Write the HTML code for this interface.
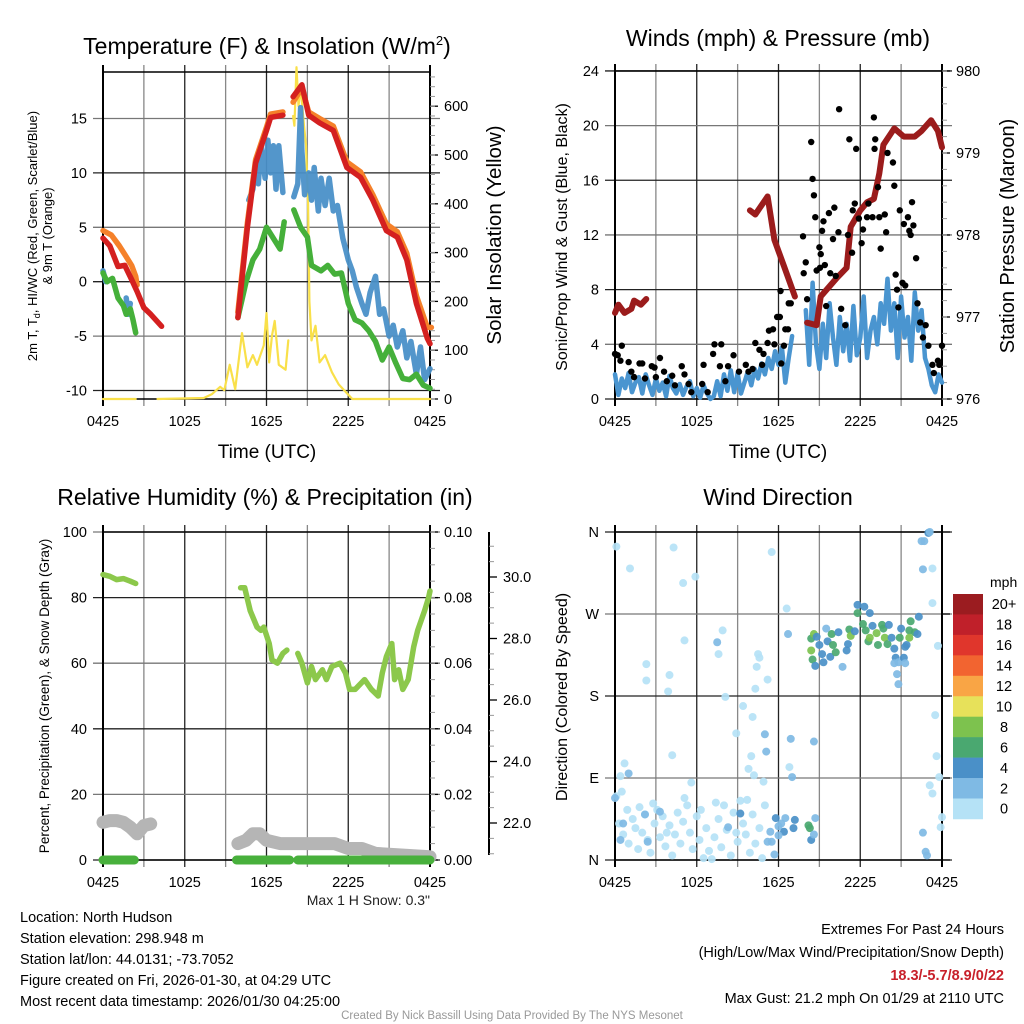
<!DOCTYPE html>
<html><head><meta charset="utf-8"><style>
body{margin:0;background:#fff;}
svg{display:block;font-family:"Liberation Sans",sans-serif;}
</style></head><body>
<svg id="s" width="1024" height="1024" viewBox="0 0 1024 1024" xmlns="http://www.w3.org/2000/svg">
<g id="txt" font-family="Liberation Sans, sans-serif" fill="#000">
<text x="267" y="54" font-size="23" text-anchor="middle">Temperature (F) &amp; Insolation (W/m<tspan dy="-9" font-size="13">2</tspan><tspan dy="9">)</tspan></text>
<text x="778" y="46" font-size="23" text-anchor="middle">Winds (mph) &amp; Pressure (mb)</text>
<text x="265" y="505" font-size="23" text-anchor="middle">Relative Humidity (%) &amp; Precipitation (in)</text>
<text x="778" y="505" font-size="23" text-anchor="middle">Wind Direction</text>
<text x="267" y="458" font-size="19" text-anchor="middle">Time (UTC)</text>
<text x="778" y="458" font-size="19" text-anchor="middle">Time (UTC)</text>
<text transform="translate(37,236) rotate(-90)" font-size="13" text-anchor="middle">2m T, T<tspan font-size="9" dy="3">d</tspan><tspan dy="-3">, HI/WC (Red, Green, Scarlet/Blue)</tspan></text>
<text transform="translate(52,236) rotate(-90)" font-size="13" text-anchor="middle">&amp; 9m T (Orange)</text>
<text transform="translate(501,235) rotate(-90)" font-size="20.5" text-anchor="middle">Solar Insolation (Yellow)</text>
<text transform="translate(567,237) rotate(-90)" font-size="16" text-anchor="middle">Sonic/Prop Wind &amp; Gust (Blue, Black)</text>
<text transform="translate(1014,236) rotate(-90)" font-size="20" text-anchor="middle">Station Pressure (Maroon)</text>
<text transform="translate(49,696) rotate(-90)" font-size="13.5" text-anchor="middle">Percent, Precipitation (Green), &amp; Snow Depth (Gray)</text>
<text transform="translate(567,697) rotate(-90)" font-size="16" text-anchor="middle">Direction (Colored By Speed)</text>
<text x="430" y="905" font-size="14" text-anchor="end" fill="#222">Max 1 H Snow: 0.3"</text>
<g font-size="14.5">
<text x="20" y="922">Location: North Hudson</text>
<text x="20" y="943">Station elevation: 298.948 m</text>
<text x="20" y="964">Station lat/lon: 44.0131; -73.7052</text>
<text x="20" y="985">Figure created on Fri, 2026-01-30, at 04:29 UTC</text>
<text x="20" y="1006">Most recent data timestamp: 2026/01/30 04:25:00</text>
</g>
<g font-size="14.5" text-anchor="end">
<text x="1004" y="934">Extremes For Past 24 Hours</text>
<text x="1004" y="957">(High/Low/Max Wind/Precipitation/Snow Depth)</text>
<text x="1004" y="980" fill="#c8202a" font-weight="bold">18.3/-5.7/8.9/0/22</text>
<text x="1004" y="1003">Max Gust: 21.2 mph On 01/29 at 2110 UTC</text>
</g>
<text x="512" y="1019" font-size="11.5" fill="#999" text-anchor="middle">Created By Nick Bassill Using Data Provided By The NYS Mesonet</text>
<text x="990" y="587" font-size="14">mph</text>
</g>
</svg>
<script>
// ---------- DATA ----------
const xTickLabels=["0425","1025","1625","2225","0425"];
const tempTicks=[-10,-5,0,5,10,15];
const solarTicks=[0,100,200,300,400,500,600];
const windTicks=[0,4,8,12,16,20,24];
const presTicks=[976,977,978,979,980];
const rhTicks=[0,20,40,60,80,100];
const precipTicks=["0.00","0.02","0.04","0.06","0.08","0.10"];
const snowTicks=[22,24,26,28,30];
const dirTicks=["N","E","S","W","N"];
const speedBins=["0","2","4","6","8","10","12","14","16","18","20+"];
const binColors=["#b5e2f6","#7fbae4","#4a90c8","#4aa870","#7dc24e","#e7e15a","#f9a545","#f26430","#e0362c","#c0202a","#9b1c20"];

const tempRedH=[0,0.5,1.1,1.6,2.1,2.5,3.0,3.5,4.3,null,9.9,10.6,11.2,12.0,12.3,13.2,null,13.95,14.6,15.1,15.9,16.9,17.9,18.9,19.8,20.8,21.6,22.3,23.0,23.8,24];
const tempRedV=[4.0,3.3,1.4,1.5,0.2,-0.9,-2.4,-3.0,-4.1,null,-3.3,5.0,10.9,13.9,15.1,15.3,null,17.0,18.1,15.3,14.6,13.9,10.5,9.6,7.5,4.7,4.1,2.0,-2.0,-5.2,-5.7];
const temp9mH=[0,0.6,1.2,1.7,2.1,2.4,2.5,null,9.9,10.6,11.2,12.0,12.3,13.2,null,13.95,14.6,15.1,15.9,16.9,17.9,18.9,19.8,20.8,21.6,22.3,23.0,23.8,24.1];
const temp9mV=[4.7,4.3,3.3,2.3,1.5,0.5,-0.3,null,-2.8,5.4,11.2,14.2,15.4,15.6,null,16.5,17.8,15.6,15.0,14.3,11.0,10.1,8.0,5.3,4.6,2.6,-1.3,-4.2,-4.2];
const dewH=[0,0.3,0.7,1.1,1.5,1.7,2.0,2.2,2.4,null,9.9,10.5,11.0,11.5,12.0,12.5,13.0,13.3,null,14.0,14.5,15.0,15.3,16.0,16.5,17.0,17.5,18.0,18.5,19.0,19.5,20.0,20.5,21.0,21.5,22.0,22.5,23.0,23.5,24];
const dewV=[0.8,0,0.3,-1.5,-2.2,-3.0,-2.5,-3.5,-4.7,null,-3.3,0,2,3,5,4,3,5.5,null,6.6,5,4.1,1.5,1,1.5,0.7,0.8,-2,-3.5,-3.8,-4.5,-5.5,-7.2,-6,-7.5,-8.9,-9,-8.5,-9.5,-9.8];
const chillH=[0,0.2,null,1.7,1.85,2.0,null,10.7,11.0,11.2,11.4,11.6,11.9,12.1,12.3,12.5,12.7,12.9,13.2,null,14.0,14.3,14.5,14.6,14.8,15.1,15.3,15.5,15.8,16.0,16.3,16.6,16.9,17.2,17.6,18.0,18.3,18.6,19.0,19.3,19.6,20.0,20.3,20.6,21.0,21.3,21.6,22.0,22.3,22.6,23.0,23.3,23.6,24];
const chillV=[1,0,null,-1.5,-3,-2,null,7.5,8.5,11,9,12.5,9.5,13,10,12.5,8.5,12.5,8.2,null,7.8,9,16,12,8,10,7.5,10.5,6.5,9.5,7,9.5,6.5,7,4,2,1,-0.5,-2,-3,-1,0.5,-3,-2.5,-5,-4,-6,-4.5,-7,-5.5,-8.5,-6,-9,-8];
const solarH=[0,2.4,null,4.0,7.4,8.0,8.6,8.9,9.3,9.7,10.2,10.6,11.0,11.3,11.8,12.0,12.2,12.4,12.6,12.9,13.4,13.6,null,13.95,14.05,14.2,14.35,14.5,14.75,14.9,15.05,15.15,15.3,15.6,15.9,16.3,16.8,17.3,18.3,24];
const solarV=[0,0,null,0,2,10,25,18,70,20,135,65,90,70,110,176,75,130,160,70,60,120,null,580,560,680,600,640,560,520,400,200,120,150,75,90,55,30,0,0];

const presH=[0,0.25,0.7,1.2,1.4,1.9,2.3,null,9.9,10.3,11.2,11.7,12.4,13.2,null,14.1,14.8,15.1,16.3,17.0,17.3,18.0,18.5,19.0,19.4,19.7,20.5,21.2,22.0,22.5,23.2,23.7,24];
const presV=[977.05,977.15,977.05,977.1,977.2,977.15,977.22,null,978.3,978.25,978.47,977.94,977.62,977.25,null,976.93,976.9,977.25,977.48,977.6,978.1,978.3,978.4,978.44,978.75,979.1,979.3,979.2,979.2,979.27,979.4,979.27,979.07];
const windV=[1.8,0.3,1.5,0.8,1.9,0.5,1.2,1.6,0.4,1.8,1.0,0.3,
1.5,0.6,1.2,0.2,1.7,0.8,0.4,1.1,0.3,0.9,1.3,0.2,
0.8,0.1,1.0,0.4,0.0,0.2,1.3,0.2,1.8,0.6,2.1,0.5,
1.9,0.4,1.2,2.0,1.0,2.2,1.5,2.6,1.8,3.0,2.2,3.5,
2.5,3.8,1.2,3.0,4.6,null,null,null,
6.5,2.5,8.5,4.0,2.2,5.5,3.0,7.0,4.5,2.5,6.0,3.5,
5.5,2.8,6.8,3.2,4.5,7.5,3.0,5.0,6.0,4.0,7.0,5.5,
8.8,5.0,7.0,3.0,7.5,4.5,6.0,2.8,7.8,5.0,6.5,3.0,
2.2,1.0,0.5,1.8,1.2];
const gustH=[0,0.2,0.5,0.4,1.0,1.2,1.4,1.8,2.0,2.2,2.7,2.9,3.0,3.3,3.6,3.8,4.2,4.4,4.9,5.1,5.4,5.6,6.4,6.5,6.8,7.2,7.3,7.8,7.7,8.1,8.3,8.7,9.1,9.6,9.8,10.1,10.3,10.6,10.8,10.9,11.2,11.3,11.6,11.7,11.9,12.1,12.2,12.4,12.5,12.7,12.75,12.15,12.9,13.8,14.0,13.85,14.1,14.4,14.5,14.6,14.7,14.8,15.0,15.1,15.05,15.2,15.3,15.4,15.5,15.7,15.8,16.0,16.1,16.2,16.4,16.45,16.6,16.9,17.1,17.2,17.4,17.45,17.6,17.7,17.9,18.1,18.2,18.5,18.6,18.9,19.0,19.05,19.1,19.3,19.4,19.5,19.8,19.9,20.0,20.4,20.5,20.6,20.7,20.8,20.9,21.1,21.2,21.3,21.5,21.6,21.7,21.8,21.9,22.1,22.2,22.4,22.6,22.8,23.0,23.3,23.4,23.7,23.8,24];
const gustV=[3.3,3.2,3.9,2.8,2.7,2.0,1.6,2.6,2.6,1.5,2.4,2.3,1.6,3.0,2.0,1.3,1.7,1.0,2.4,1.8,1.1,0.5,1.1,2.5,0.5,3.3,4.0,4.0,2.4,1.3,2.4,3.2,2.0,2.5,2.0,2.2,4.1,3.6,2.5,3.3,4.1,5.0,5.1,4.0,6.0,6.0,2.6,3.9,5.1,5.1,7.0,7.9,7.0,11.9,10.0,9.2,7.3,18.8,16.1,14.9,13.3,9.4,11.1,10.6,9.6,12.3,13.0,9.8,6.8,13.6,9.2,11.7,14.0,9.0,12.2,21.2,6.6,5.4,12.0,19.0,10.7,13.8,14.3,18.3,13.2,11.4,12.4,13.3,14.3,13.3,20.6,18.3,19.0,15.5,13.3,11.0,13.5,12.2,18.0,17.3,15.6,9.1,8.0,6.7,13.8,8.5,12.8,8.3,13.3,12.3,12.0,14.4,12.7,10.3,7.0,5.6,4.5,5.4,3.9,2.5,1.9,2.8,2.5,3.9];

const rhH=[0,0.5,1,1.5,2,2.4,null,10.1,10.4,10.8,11.3,11.6,11.8,12.2,12.4,12.8,13.2,13.5,null,14.3,14.6,15.0,15.3,15.6,16.1,16.4,16.8,17.4,17.8,18.1,18.5,19.2,19.7,20.2,20.5,20.8,21.2,21.4,21.7,22.0,22.4,22.8,23.1,23.6,23.9,24];
const rhV=[87,86.5,85.5,85.8,85,84.3,null,83,83,76,71,70,71,66,61,60,63,64,null,63,60,54,59,55,58,55,59,60,57,52,52,55,52,50,57,62,66,55,58,52,55,65,70,76,80,82];
const snowH=[0,0.5,1,1.5,2,2.5,3,3.5,null,9.9,10.5,11,11.5,12,13,15,17,18,19,20,24];
const snowV=[11.5,12,12,11.5,10,8,10.5,11,null,5,6,8,8,6,5,5,5,3.5,3.5,2,1];
const precipH=[0,2.3,null,9.8,13.7,null,14.3,24];
const precipV=[0,0,null,0,0,null,0,0];

// direction points: hour, degrees, speed (mph)
const dirH=[0.1,4.3,1.1,5.9,5.0,11.5,12.6,5.1,7.9,7.6,2.3,2.3,4.0,3.9,8.1,10.6,10.4,11.2,10.3,10.5,9.4,10.1,8.9,10.0,9.8,10.2,10.9,4.2,0.7,0.4,5.6,12.8,23.5,23.6,23.8,23.1,23.3,24,23.9,23.3,23.3,23.7,
0.3,0.6,0.9,1.0,1.3,1.5,1.7,2.0,2.2,2.4,2.6,2.9,3.1,3.3,3.5,3.7,4.0,4.2,4.4,4.6,4.8,5.0,5.3,5.5,5.7,6.0,6.2,6.5,6.7,6.9,7.1,7.3,7.6,7.8,8.0,8.2,8.5,8.7,9.0,9.2,9.4,9.6,9.9,10.1,10.3,10.6,10.8,11.0,0.1,0.5,2.8,5.1,7.4,9.7,3.8,1.8,6.3,8.9,
1.0,0.0,0.6,0.4,2.2,2.4,3.3,8.3,9.2,11.0,11.1,7.5,12.7,12.9,13.0,14.6,
11.8,12.5,13.2,12.0,12.2,12.4,13.1,11.4,12.0,11.5,11.7,11.2,14.2,14.3,14.4,14.6,14.7,
14.4,14.6,14.4,14.5,14.7,14.8,15.0,15.2,15.3,15.5,15.6,15.8,15.9,16.0,16.2,16.4,16.7,17.0,17.1,17.2,17.3,17.6,17.8,17.8,18.3,18.7,18.2,18.4,18.6,18.7,18.9,19.2,19.3,19.6,19.7,19.8,20.0,20.1,20.3,20.5,20.6,20.8,21.0,20.9,21.2,21.3,21.4,21.6,21.7,22.0,22.2,21.6,22.3,20.7,20.8,21.3,20.5,
23.0,23.1,22.5,22.7,22.6,22.6,22.8,22.9];
const dirD=[344,343,320,311,304,338,276,241,252,226,215,197,203,185,179,222,212,198,188,226,169,157,139,114,100,93,86,115,106,92,85,102,159,114,91,82,73,47,36,320,282,235,
40,28,55,18,45,35,12,30,50,22,8,40,55,25,48,15,38,5,28,52,18,42,60,30,12,48,22,2,35,10,1,25,45,14,60,33,5,52,20,65,40,28,8,50,18,35,2,60,70,75,62,68,63,66,30,58,55,30,
95,68,40,22,50,20,53,36,51,138,119,239,248,133,91,130,
46,46,44,37,40,31,35,31,27,20,6,20,38,35,22,28,46,
243,248,230,220,213,245,236,226,217,254,240,223,248,236,228,250,212,230,237,253,246,251,280,271,278,271,259,252,240,244,257,249,236,258,254,244,237,258,244,232,222,217,254,244,222,234,236,252,262,250,248,244,267,204,193,216,216,
359,360,350,350,319,30,9,5];
const dirS=[1,1,1,1,1,1,1,1,1,1,1,1,1,1,1,1,1,1,1,1,1,1,1,1,1,1,1,1,1,1,1,1,1,1,1,1,1,1,1,1,1,1,
1,1,1,1,1,1,1,1,1,1,1,1,1,1,1,1,1,1,1,1,1,1,1,1,1,1,1,1,1,1,1,1,1,1,1,1,1,1,1,1,1,1,1,1,1,1,1,1,1,1,1,1,1,1,1,1,1,1,
3,3,3,3,3,3,3,3,4,3,3,3,3,3,3,3,
4,3,4,3,3,4,4,3,3,3,3,3,6,6,4,3,3,
6,8,8,6,4,4,4,4,4,3,4,4,6,6,6,4,3,4,4,6,8,4,4,6,4,4,6,6,6,8,4,8,6,6,6,8,6,4,4,4,4,3,4,6,4,4,4,6,6,6,4,8,4,3,3,3,3,
4,3,3,3,3,3,3,3];

// ---------- DRAW ----------
const NS="http://www.w3.org/2000/svg";
const svg=document.getElementById('s');
function mk(tag,attrs,parent){const e=document.createElementNS(NS,tag);for(const k in attrs)e.setAttribute(k,attrs[k]);(parent||svg).appendChild(e);return e;}
function txt(x,y,s,size,anchor,parent){const t=mk('text',{x:x,y:y,'font-size':size,'text-anchor':anchor||'middle',fill:'#000'},parent);t.textContent=s;return t;}

const P1={x0:103,x1:430,y0:72,y1:399};
const P2={x0:615,x1:942,y0:71,y1:399};
const P3={x0:103,x1:430,y0:532,y1:860};
const P4={x0:615,x1:942,y0:532,y1:860};
const hx=(P,h)=>P.x0+h*(P.x1-P.x0)/24;

function frame(P,name,hLines){
  const g=mk('g',{});
  
  
  for(let i=1;i<8;i++){const x=hx(P,i*3);const l=mk('line',{x1:x,x2:x,y1:P.y0-7,y2:P.y1+7,stroke:i%2?'#888':'#222','stroke-width':1.3},g);
    
    }
  hLines.forEach((y,i)=>{const l=mk('line',{x1:P.x0-10,x2:P.x1+10,y1:y,y2:y,stroke:i%2?'#777':'#222','stroke-width':1.3},g);
    
    });
  mk('line',{x1:P.x0,x2:P.x0,y1:P.y0-7,y2:P.y1+7,stroke:'#000','stroke-width':2},g);
  mk('line',{x1:P.x1,x2:P.x1,y1:P.y0-7,y2:P.y1+7,stroke:'#000','stroke-width':2},g);
  mk('line',{x1:P.x0,x2:P.x1,y1:P.y0,y2:P.y0,stroke:'#000','stroke-width':1.5},g);
  mk('line',{x1:P.x0,x2:P.x1,y1:P.y1,y2:P.y1,stroke:'#000','stroke-width':1.5},g);
  xTickLabels.forEach((s,i)=>{const t=txt(hx(P,i*6),P.y1+27,s,14.5,'middle',g);
    
    });
  return g;
}
function line(H,V,fx,fy,color,w,name,op){
  let d='',pen=false;
  for(let i=0;i<H.length;i++){if(H[i]===null||V[i]===null){pen=false;continue;}
    d+=(pen?'L':'M')+fx(H[i]).toFixed(1)+','+fy(V[i]).toFixed(1);pen=true;}
  const p=mk('path',{d:d,fill:'none',stroke:color,'stroke-width':w,'stroke-linejoin':'round','stroke-linecap':'round',opacity:op||1});
  
  
  return p;
}
function rightTicks(P,vals,fy,labels,name,minorStep,minorRange){
  const g=mk('g',{});
  
  
  vals.forEach((v,i)=>{const y=fy(v);mk('line',{x1:P.x1,x2:P.x1+8,y1:y,y2:y,stroke:'#000','stroke-width':1.3},g);
    const t=txt(P.x1+14,y+5,labels[i],14.5,'start',g);
    
    });
  if(minorStep){for(let v=minorRange[0];v<=minorRange[1]+1e-9;v+=minorStep){const y=fy(v);if(y<P.y0-1||y>P.y1+1)continue;mk('line',{x1:P.x1,x2:P.x1+5,y1:y,y2:y,stroke:'#999','stroke-width':1},g);}}
}
function leftTicks(P,vals,fy,labels,name){
  const g=mk('g',{});
  
  
  vals.forEach((v,i)=>{const t=txt(P.x0-16,fy(v)+5,labels[i],14.5,'end',g);
    
    });
}

// Panel 1
const t1y=v=>281.7-v*10.88, s1y=v=>399-v*0.488, f1x=h=>hx(P1,h);
frame(P1,'temperature-panel',tempTicks.map(t1y));
leftTicks(P1,tempTicks,t1y,tempTicks.map(String),'temp-y-ticks');
rightTicks(P1,solarTicks,s1y,solarTicks.map(String),'solar-y-ticks',20,[0,680]);
line(solarH,solarV,f1x,s1y,'#f9e04a',2.2,'solar-line');
line(chillH,chillV,f1x,t1y,'#4a90c8',5.5,'wind-chill-line',0.95);
line(dewH,dewV,f1x,t1y,'#45b03a',5.5,'dewpoint-line');
line(temp9mH,temp9mV,f1x,t1y,'#f5812a',5.5,'temp-9m-line');
line(tempRedH,tempRedV,f1x,t1y,'#d42020',5.5,'temp-2m-line');

// Panel 2
const w2y=v=>399-v*13.67, p2y=v=>399-(v-976)*82, f2x=h=>hx(P2,h);
frame(P2,'winds-panel',windTicks.map(w2y));
leftTicks(P2,windTicks,w2y,windTicks.map(String),'wind-y-ticks');
rightTicks(P2,presTicks,p2y,presTicks.map(String),'pressure-y-ticks',0.2,[976,980]);
const windH=windV.map((v,i)=>i*0.25);
line(windH,windV,f2x,w2y,'#4a95d0',4.5,'sustained-wind-line');
line(presH,presV,f2x,p2y,'#9b1c1c',6,'pressure-line');
gustH.forEach((h,i)=>{const c=mk('circle',{cx:f2x(h),cy:w2y(gustV[i]),r:3.2,fill:'#000'});
  
  });

// Panel 3
const r3y=v=>860-v*3.28, f3x=h=>hx(P3,h);
frame(P3,'humidity-panel',rhTicks.map(r3y));
leftTicks(P3,rhTicks,r3y,rhTicks.map(String),'rh-y-ticks');
rightTicks(P3,rhTicks,r3y,precipTicks,'precip-y-ticks',5,[0,100]);
{const g=mk('g',{});
 
 
 mk('line',{x1:489,x2:489,y1:532,y2:855,stroke:'#000','stroke-width':2},g);
 const sy=v=>577+(30-v)*30.75;
 for(let v=21;v<=31.01;v+=0.5){const y=sy(v);if(y<534||y>855)continue;mk('line',{x1:489,x2:494,y1:y,y2:y,stroke:'#999','stroke-width':1},g);}
 snowTicks.forEach(v=>{const y=sy(v);mk('line',{x1:489,x2:497,y1:y,y2:y,stroke:'#000','stroke-width':1.3},g);
   const t=txt(503,y+5,v.toFixed(1),14.5,'start',g);
   
   });}
line(snowH,snowV,f3x,r3y,'#b5b5b5',13,'snow-depth-line');
line(precipH,precipV,f3x,r3y,'#48b03c',9,'precipitation-line');
line(rhH,rhV,f3x,r3y,'#8cc84b',5.5,'rh-line');

// Panel 4
const d4y=v=>860-v*(328/360), f4x=h=>hx(P4,h);
frame(P4,'wind-direction-panel',[0,90,180,270,360].map(d4y));
leftTicks(P4,[0,90,180,270,360],d4y,dirTicks,'direction-y-ticks');
[0,90,180,270,360].forEach(v=>{const y=d4y(v);mk('line',{x1:P4.x1,x2:P4.x1+8,y1:y,y2:y,stroke:'#000','stroke-width':1.3});});
function binOf(s){return Math.min(10,Math.floor(s/2));}
dirH.forEach((h,i)=>{const c=mk('circle',{cx:f4x(h),cy:d4y(Math.min(dirD[i],360)),r:4,fill:binColors[binOf(dirS[i])],opacity:0.92});
  
  });
// colorbar
{const g=mk('g',{});
 
 
 const top=594,bh=20.45;
 for(let i=0;i<11;i++){const k=10-i;const r=mk('rect',{x:953,y:top+i*bh,width:30,height:bh+0.3,fill:binColors[k]},g);
   
   
   const t=txt(1004,top+i*bh+bh/2+5,speedBins[k],14.5,'middle',g);
   
   }}
</script>
</body></html>
